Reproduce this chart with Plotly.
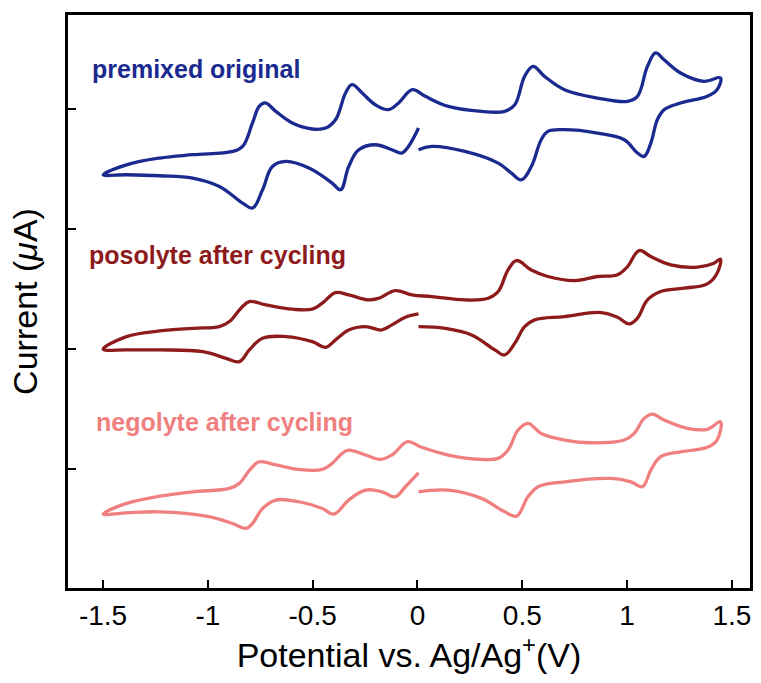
import plotly.graph_objects as go

# ---- data (potential in V, current in arbitrary offset units) ----
E_premixed = [0.005, -0.043, -0.075, -0.122, -0.201, -0.280, -0.328, -0.367, -0.407, -0.518, -0.628, -0.692, -0.739, -0.787, -0.834, -0.945, -1.072, -1.230, -1.388, -1.499,
              -1.388, -1.230, -1.072, -0.882, -0.834, -0.787, -0.755, -0.726, -0.676, -0.597, -0.502, -0.438, -0.391, -0.343, -0.312, -0.264, -0.201, -0.138, -0.090, -0.024, 0.037, 0.147, 0.305, 0.416, 0.464, 0.511, 0.551, 0.606, 0.701, 0.859, 1.002, 1.049, 1.097, 1.136, 1.176, 1.255, 1.366, 1.445,
              1.429, 1.382, 1.255, 1.176, 1.144, 1.113, 1.081, 1.049, 0.986, 0.859, 0.701, 0.622, 0.590, 0.543, 0.495, 0.448, 0.385, 0.226, 0.068, 0.005]
I_premixed = [2.839, 2.686, 2.631, 2.658, 2.700, 2.658, 2.519, 2.325, 2.381, 2.506, 2.561, 2.519, 2.325, 2.173, 2.214, 2.353, 2.423, 2.442, 2.450, 2.450,
              2.533, 2.589, 2.617, 2.644, 2.686, 2.881, 3.019, 3.048, 2.978, 2.881, 2.831, 2.839, 2.908, 3.131, 3.200, 3.131, 3.033, 2.992, 3.048, 3.158, 3.103, 3.019, 2.978, 2.978, 3.033, 3.269, 3.353, 3.269, 3.158, 3.089, 3.061, 3.103, 3.353, 3.464, 3.408, 3.297, 3.228, 3.256,
              3.158, 3.103, 3.047, 2.992, 2.908, 2.714, 2.603, 2.631, 2.742, 2.797, 2.825, 2.811, 2.742, 2.519, 2.408, 2.464, 2.547, 2.644, 2.686, 2.658]

E_posolyte = [0.005, -0.058, -0.122, -0.170, -0.248, -0.328, -0.391, -0.438, -0.502, -0.628, -0.739, -0.802, -0.850, -0.913, -1.024, -1.230, -1.388, -1.499,
              -1.388, -1.230, -1.072, -0.945, -0.897, -0.842, -0.802, -0.723, -0.597, -0.502, -0.454, -0.391, -0.328, -0.233, -0.185, -0.106, -0.027, 0.068, 0.226, 0.337, 0.385, 0.432, 0.472, 0.543, 0.622, 0.749, 0.859, 0.954, 1.002, 1.057, 1.113, 1.208, 1.335, 1.414, 1.445,
              1.429, 1.382, 1.271, 1.160, 1.097, 1.049, 1.010, 0.954, 0.875, 0.701, 0.559, 0.511, 0.464, 0.416, 0.369, 0.258, 0.132, 0.005]
I_posolyte = [1.292, 1.264, 1.200, 1.158, 1.186, 1.158, 1.075, 1.014, 1.061, 1.103, 1.089, 0.992, 0.894, 0.922, 0.978, 0.992, 0.992, 0.998,
              1.103, 1.150, 1.172, 1.186, 1.228, 1.339, 1.394, 1.367, 1.331, 1.331, 1.381, 1.469, 1.450, 1.408, 1.422, 1.486, 1.450, 1.436, 1.408, 1.422, 1.478, 1.658, 1.736, 1.658, 1.603, 1.569, 1.603, 1.617, 1.686, 1.819, 1.769, 1.700, 1.681, 1.714, 1.748,
              1.631, 1.542, 1.506, 1.478, 1.408, 1.256, 1.208, 1.264, 1.303, 1.269, 1.242, 1.186, 1.047, 0.950, 0.992, 1.117, 1.172, 1.186]

E_negolyte = [0.005, -0.058, -0.106, -0.170, -0.248, -0.328, -0.399, -0.454, -0.565, -0.676, -0.739, -0.787, -0.818, -0.882, -1.008, -1.230, -1.388, -1.499,
              -1.388, -1.230, -1.072, -0.897, -0.850, -0.794, -0.755, -0.692, -0.565, -0.454, -0.407, -0.359, -0.328, -0.248, -0.177, -0.122, -0.047, 0.013, 0.147, 0.305, 0.385, 0.432, 0.480, 0.527, 0.590, 0.701, 0.828, 0.986, 1.034, 1.081, 1.121, 1.176, 1.287, 1.382, 1.445,
              1.429, 1.382, 1.255, 1.160, 1.113, 1.073, 1.018, 0.923, 0.701, 0.575, 0.527, 0.472, 0.416, 0.305, 0.147, 0.005]
I_negolyte = [-0.031, -0.147, -0.231, -0.189, -0.175, -0.258, -0.375, -0.328, -0.272, -0.258, -0.328, -0.453, -0.494, -0.453, -0.392, -0.356, -0.364, -0.375,
              -0.286, -0.225, -0.189, -0.161, -0.119, 0.006, 0.061, 0.042, -0.003, -0.003, 0.047, 0.131, 0.158, 0.117, 0.081, 0.117, 0.228, 0.186, 0.117, 0.081, 0.089, 0.158, 0.325, 0.381, 0.297, 0.242, 0.219, 0.242, 0.297, 0.422, 0.458, 0.408, 0.339, 0.331, 0.394,
              0.242, 0.181, 0.144, 0.103, -0.008, -0.147, -0.106, -0.078, -0.106, -0.147, -0.231, -0.392, -0.356, -0.244, -0.175, -0.189]

labels = ["premixed original", "posolyte after cycling", "negolyte after cycling"]
label_x = [-1.56, -1.575, -1.545]
label_y = [3.33, 1.78, 0.39]
colors = ["#1b2a8f", "#8e1b1b", "#f07f7f"]

x_ticks = [-1.5, -1, -0.5, 0, 0.5, 1, 1.5]
x_ticktext = ["-1.5", "-1", "-0.5", "0", "0.5", "1", "1.5"]
y_ticks = [0, 1, 2, 3]

series = [(E_premixed, I_premixed), (E_posolyte, I_posolyte), (E_negolyte, I_negolyte)]

fig = go.Figure()
for (E, I), name, c in zip(series, labels, colors):
    fig.add_trace(go.Scatter(x=E, y=I, mode="lines", name=name,
                             line=dict(color=c, width=3.3, shape="spline", smoothing=1.1),
                             showlegend=False))

for name, lx, ly, c in zip(labels, label_x, label_y, colors):
    fig.add_annotation(x=lx, y=ly, xref="x", yref="y", text="<b>" + name + "</b>",
                       showarrow=False, xanchor="left", yanchor="middle",
                       font=dict(family="Liberation Sans, Arial, sans-serif", size=25, color=c))

fig.update_layout(
    width=761, height=683,
    margin=dict(l=68, r=8, t=15, b=95),
    paper_bgcolor="white", plot_bgcolor="white",
    font=dict(family="Liberation Sans, Arial, sans-serif", color="black"),
)
fig.update_xaxes(range=[-1.667, 1.586], tickvals=x_ticks, ticktext=x_ticktext,
                 ticks="inside", ticklen=8, tickwidth=2, tickcolor="black",
                 showline=True, linewidth=3, linecolor="black", mirror=True,
                 showgrid=False, zeroline=False,
                 tickfont=dict(size=28, color="black"),
                 title=dict(text="Potential vs. Ag/Ag<sup>+</sup>(V)", font=dict(size=34, color="black"), standoff=4))
fig.update_yaxes(range=[-0.99, 3.78], tickvals=y_ticks, showticklabels=False,
                 ticks="inside", ticklen=8, tickwidth=2, tickcolor="black",
                 showline=True, linewidth=3, linecolor="black", mirror=True,
                 showgrid=False, zeroline=False,
                 title=dict(text="Current (<i>μ</i>A)", font=dict(size=34, color="black"), standoff=18))

fig.write_html("out.html")
